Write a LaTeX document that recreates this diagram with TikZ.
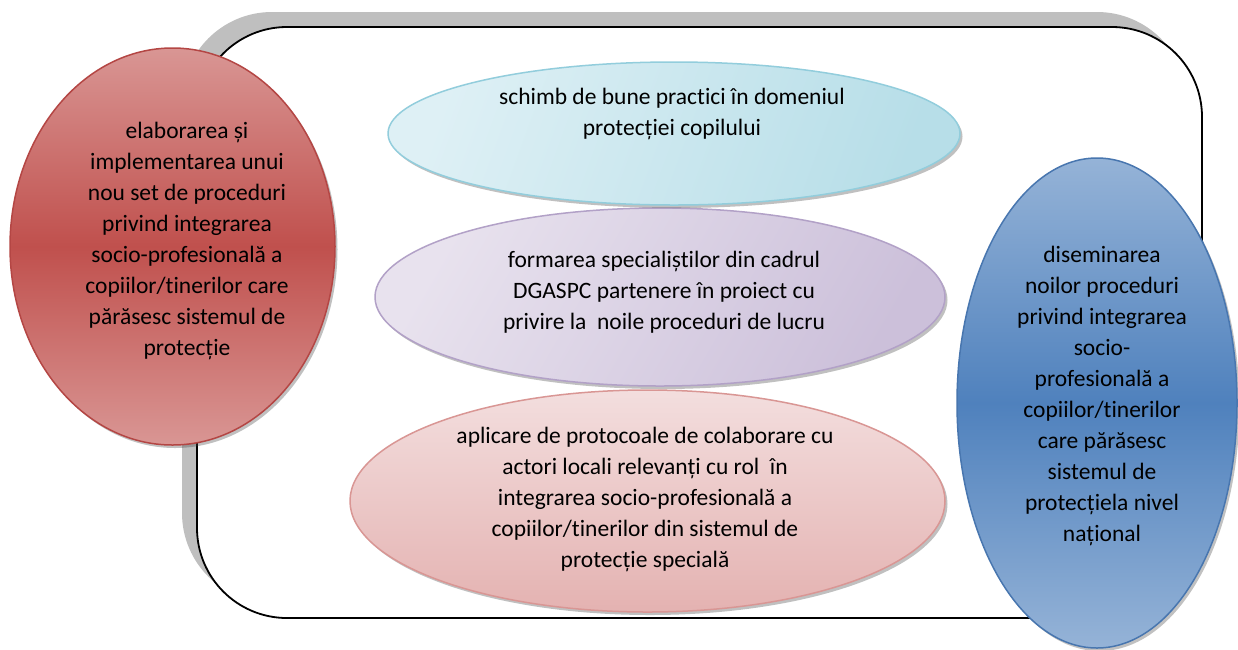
\documentclass[tikz,border=0pt]{standalone}
\usepackage{fontspec}
\setmainfont{Carlito}[Ligatures={NoCommon}]
\usetikzlibrary{shapes.geometric,shadows}
\definecolor{redA}{RGB}{217,150,148}
\definecolor{redB}{RGB}{192,80,77}
\definecolor{redD}{RGB}{180,70,68}
\definecolor{cyA}{RGB}{222,240,245}
\definecolor{cyB}{RGB}{183,222,232}
\definecolor{cyD}{RGB}{146,205,220}
\definecolor{puA}{RGB}{232,226,238}
\definecolor{puB}{RGB}{204,192,218}
\definecolor{puD}{RGB}{178,161,199}
\definecolor{piA}{RGB}{243,222,222}
\definecolor{piB}{RGB}{228,178,177}
\definecolor{piD}{RGB}{217,150,148}
\definecolor{blA}{RGB}{149,179,215}
\definecolor{blB}{RGB}{79,129,189}
\definecolor{blD}{RGB}{72,118,175}
\definecolor{shadowgray}{RGB}{191,191,191}
\tikzset{
  blob/.style={ellipse, inner sep=0pt, line width=1.5pt,
    drop shadow={shadow xshift=2.5pt, shadow yshift=-3pt, opacity=0.35, fill=black!70}},
  txt/.style={align=center, font=\fontsize{23.5}{31}\selectfont, text=black, inner sep=0pt}
}
\begin{document}
\begin{tikzpicture}[x=1pt,y=-1pt]
\useasboundingbox (0,0) rectangle (1238,649);
% frame
\fill[shadowgray, rounded corners=90pt] (182,12) rectangle (1187,603);
\draw[line width=1.8pt, fill=white, rounded corners=90pt] (197,27) rectangle (1202,618);
% ellipses
\node[blob, draw=piD, top color=piA, bottom color=piB, minimum width=595pt, minimum height=222pt] (pink) at (647.5,501) {};
\node[blob, draw=puD, left color=puA, right color=puB, shading angle=60, minimum width=570pt, minimum height=178pt] (purple) at (660,297) {};
\node[blob, draw=cyD, left color=cyA, right color=cyB, shading angle=70, minimum width=572pt, minimum height=143pt] (cyan) at (674,133.5) {};
\node[blob, draw=redD, top color=redA, bottom color=redA, middle color=redB, minimum width=325pt, minimum height=397pt] (red) at (172.5,246.5) {};
\node[blob, draw=blD, top color=blA, bottom color=blA, middle color=blB, minimum width=280pt, minimum height=490pt] (blue) at (1097,403) {};
% texts
\node[txt] (tred) at (187,240.5) {elaborarea și\\implementarea unui\\nou set de proceduri\\privind integrarea\\socio-profesională a\\copiilor/tinerilor care\\părăsesc sistemul de\\protecție};
\node[txt] (tcyan) at (672,113.5) {schimb de bune practici în domeniul\\protecției copilului};
\node[txt] (tpurple) at (664,292) {formarea specialiștilor din cadrul\\DGASPC partenere în proiect cu\\privire la~ noile proceduri de lucru};
\node[txt] (tpink) at (645,499.5) {aplicare de protocoale de colaborare cu\\actori locali relevanți cu rol~ în\\integrarea socio-profesională a\\copiilor/tinerilor din sistemul de\\protecție specială};
\node[txt] (tblue) at (1102,395.5) {diseminarea\\noilor proceduri\\privind integrarea\\socio-\\profesională a\\copiilor/tinerilor\\care părăsesc\\sistemul de\\protecțiela nivel\\național};
\end{tikzpicture}
\end{document}
